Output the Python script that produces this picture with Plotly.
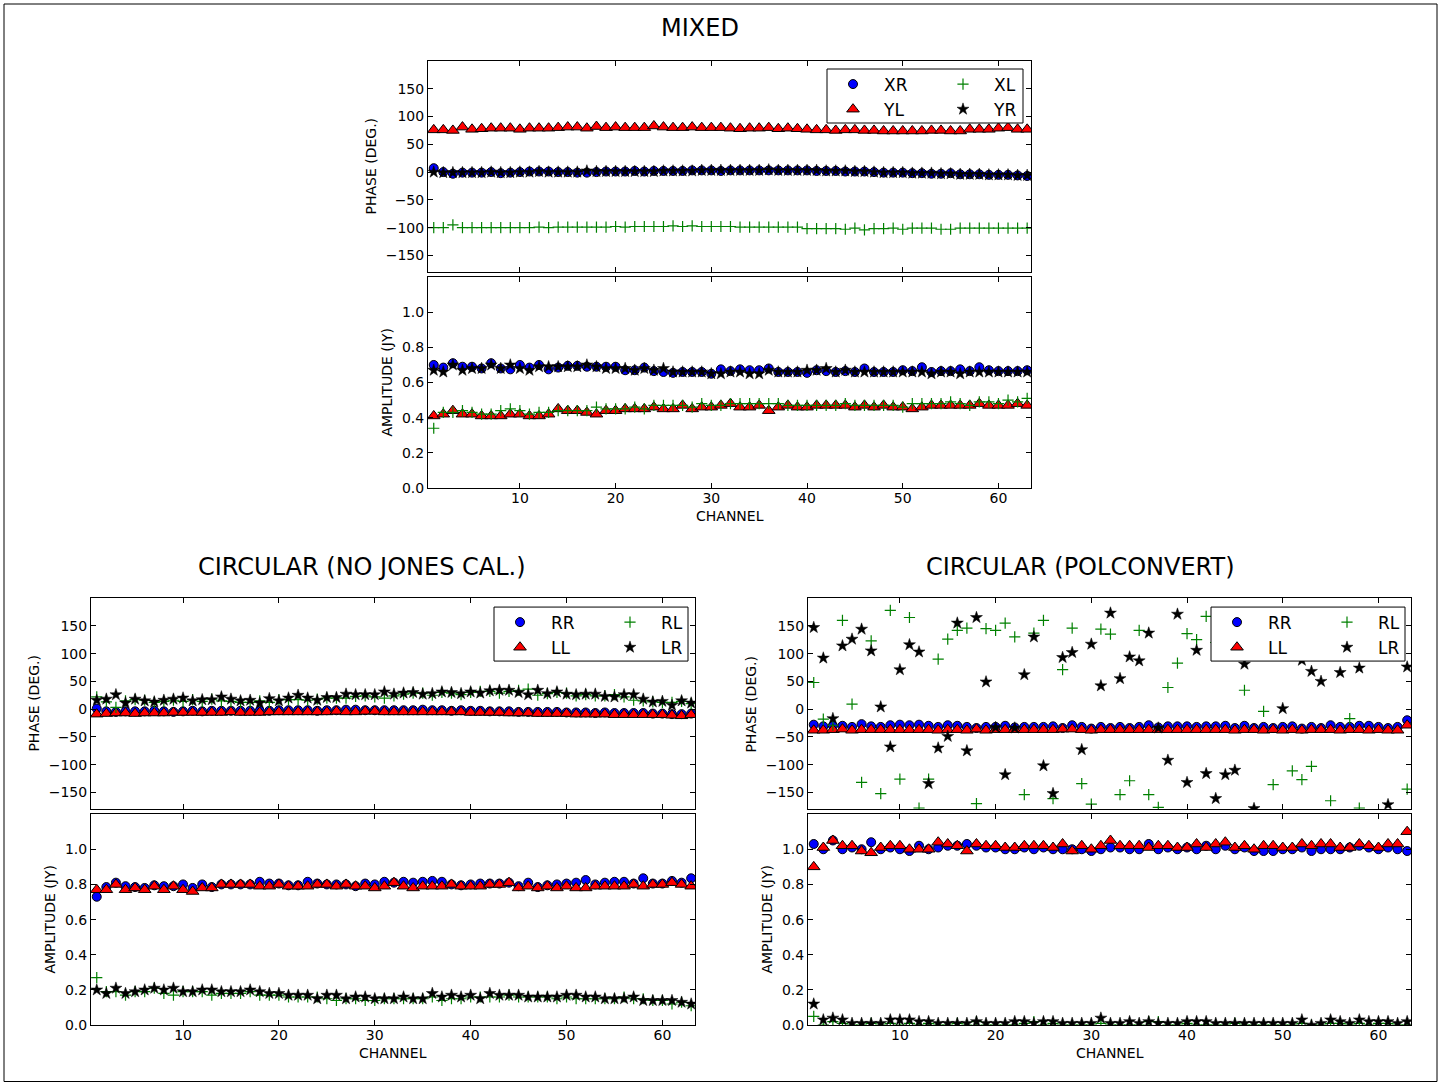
import plotly.graph_objects as go

# ---------------- data ----------------
channels = list(range(1, 64))

# MIXED
mixed_names = ["XR", "YL", "XL", "YR"]
mixed_phase_xr = [7, 0, -3, -1, -1, -1, 0, -2, -1, 0,
                  1, 1, 1, 0, 0, -1, -1, 0, 1, 1,
                  1, 2, 1, 2, 2, 2, 2, 3, 3, 3,
                  2, 3, 3, 3, 3, 3, 3, 3, 3, 3,
                  2, 2, 2, 1, 1, 1, 0, -1, -1, -1,
                  -2, -2, -3, -3, -2, -4, -4, -4, -5, -5,
                  -5, -6, -7]
mixed_phase_yl = [76, 76, 75, 81, 77, 78, 79, 79, 79, 77,
                  79, 79, 79, 80, 81, 81, 79, 82, 80, 81,
                  80, 80, 80, 83, 81, 80, 80, 81, 80, 80,
                  80, 79, 78, 79, 79, 80, 78, 79, 78, 77,
                  76, 76, 75, 76, 76, 75, 75, 74, 74, 74,
                  74, 74, 75, 75, 74, 74, 77, 77, 77, 79,
                  80, 77, 77]
mixed_phase_xl = [-100, -100, -95, -100, -100, -100, -100, -100, -100, -100,
                  -100, -99, -100, -99, -99, -99, -99, -99, -99, -98,
                  -99, -98, -98, -98, -98, -97, -98, -97, -98, -98,
                  -98, -98, -99, -99, -99, -99, -99, -99, -99, -102,
                  -102, -102, -102, -103, -101, -104, -102, -102, -101, -103,
                  -101, -101, -101, -103, -103, -101, -101, -101, -101, -101,
                  -101, -101, -101]
mixed_phase_yr = [0, -1, -1, -1, -1, -1, 0, -1, -1, 0,
                  0, 1, 0, 0, 0, 0, 2, 1, 1, 1,
                  1, 1, 1, 1, 2, 2, 2, 2, 3, 3,
                  3, 3, 3, 3, 3, 4, 3, 3, 3, 3,
                  3, 2, 2, 2, 1, 1, 0, -1, -1, -1,
                  -2, -2, -2, -3, -3, -4, -4, -4, -5, -5,
                  -5, -6, -6]
mixed_amp_xr = [0.70, 0.685, 0.71, 0.69, 0.69, 0.68, 0.71, 0.68, 0.675, 0.70,
                0.685, 0.70, 0.675, 0.685, 0.695, 0.695, 0.69, 0.69, 0.69, 0.69,
                0.67, 0.67, 0.685, 0.665, 0.66, 0.655, 0.66, 0.66, 0.66, 0.65,
                0.675, 0.665, 0.675, 0.67, 0.67, 0.68, 0.66, 0.66, 0.66, 0.655,
                0.67, 0.665, 0.66, 0.665, 0.66, 0.68, 0.66, 0.66, 0.66, 0.67,
                0.665, 0.687, 0.66, 0.665, 0.665, 0.675, 0.665, 0.687, 0.67, 0.665,
                0.665, 0.665, 0.67]
mixed_amp_yl = [0.41, 0.42, 0.44, 0.42, 0.42, 0.41, 0.41, 0.41, 0.42, 0.42,
                0.41, 0.41, 0.42, 0.45, 0.44, 0.44, 0.43, 0.42, 0.44, 0.44,
                0.45, 0.45, 0.45, 0.46, 0.45, 0.45, 0.47, 0.45, 0.46, 0.46,
                0.47, 0.48, 0.46, 0.46, 0.47, 0.44, 0.46, 0.47, 0.46, 0.46,
                0.47, 0.47, 0.47, 0.47, 0.46, 0.47, 0.46, 0.47, 0.46, 0.46,
                0.45, 0.46, 0.47, 0.47, 0.47, 0.47, 0.47, 0.48, 0.47, 0.47,
                0.47, 0.48, 0.47]
mixed_amp_xl = [0.34, 0.43, 0.43, 0.44, 0.43, 0.42, 0.42, 0.44, 0.45, 0.44,
                0.42, 0.43, 0.43, 0.44, 0.44, 0.44, 0.44, 0.46, 0.45, 0.45,
                0.45, 0.46, 0.45, 0.47, 0.47, 0.47, 0.47, 0.46, 0.48, 0.47,
                0.47, 0.48, 0.48, 0.48, 0.48, 0.48, 0.48, 0.47, 0.47, 0.47,
                0.47, 0.47, 0.47, 0.48, 0.47, 0.47, 0.47, 0.47, 0.47, 0.46,
                0.48, 0.48, 0.48, 0.48, 0.49, 0.48, 0.47, 0.49, 0.49, 0.48,
                0.50, 0.49, 0.51]
mixed_amp_yr = [0.67, 0.66, 0.70, 0.67, 0.68, 0.68, 0.70, 0.68, 0.70, 0.68,
                0.67, 0.69, 0.69, 0.69, 0.69, 0.69, 0.70, 0.69, 0.68, 0.68,
                0.68, 0.67, 0.68, 0.67, 0.68, 0.66, 0.66, 0.66, 0.66, 0.65,
                0.65, 0.66, 0.66, 0.65, 0.65, 0.67, 0.66, 0.66, 0.66, 0.67,
                0.67, 0.68, 0.66, 0.67, 0.66, 0.66, 0.66, 0.66, 0.66, 0.66,
                0.66, 0.66, 0.65, 0.66, 0.66, 0.65, 0.66, 0.66, 0.66, 0.66,
                0.66, 0.66, 0.66]

# CIRCULAR (NO JONES CAL.)
circ_names = ["RR", "LL", "RL", "LR"]
nojones_phase_rr = [1, -4, -5, -4, -4, -4, -3, -4, -5, -4,
                    -3, -4, -3, -3, -3, -3, -3, -3, -3, -2,
                    -2, -2, -2, -3, -2, -2, -1, -1, -2, -2,
                    -2, -2, -2, -2, -1, -2, -2, -3, -2, -3,
                    -3, -4, -4, -4, -5, -5, -5, -5, -5, -6,
                    -6, -6, -7, -6, -7, -7, -7, -7, -8, -8,
                    -9, -9, -8]
nojones_phase_ll = [-9, -8, -7, -7, -8, -7, -7, -7, -6, -6,
                    -6, -6, -6, -6, -5, -6, -6, -6, -5, -5,
                    -5, -5, -5, -5, -5, -4, -5, -5, -4, -4,
                    -5, -5, -5, -5, -5, -5, -5, -5, -5, -6,
                    -6, -6, -6, -7, -7, -7, -8, -8, -8, -8,
                    -9, -9, -9, -9, -10, -10, -10, -10, -10, -10,
                    -11, -12, -10]
nojones_phase_rl = [22, 13, 3, 15, 17, 16, 12, 14, 16, 14,
                    17, 14, 18, 15, 14, 12, 12, 15, 12, 17,
                    17, 17, 16, 18, 20, 20, 20, 23, 24, 22,
                    20, 24, 27, 29, 29, 25, 30, 29, 26, 30,
                    32, 32, 29, 32, 34, 36, 25, 28, 30, 29,
                    24, 26, 24, 24, 26, 22, 16, 15, 13, 12,
                    12, 14, 10]
nojones_phase_lr = [16, 18, 26, 11, 18, 15, 13, 16, 18, 20,
                    15, 17, 17, 22, 18, 15, 16, 11, 19, 15,
                    20, 25, 20, 16, 21, 21, 27, 26, 26, 26,
                    31, 27, 29, 30, 27, 28, 31, 30, 28, 31,
                    29, 33, 34, 34, 30, 26, 34, 28, 31, 27,
                    26, 27, 27, 23, 22, 26, 26, 18, 13, 14,
                    7, 15, 11]
nojones_amp_rr = [0.73, 0.785, 0.81, 0.79, 0.785, 0.78, 0.795, 0.79, 0.79, 0.80,
                  0.78, 0.80, 0.785, 0.80, 0.80, 0.80, 0.80, 0.815, 0.805, 0.805,
                  0.795, 0.795, 0.815, 0.805, 0.80, 0.80, 0.80, 0.79, 0.805, 0.80,
                  0.815, 0.81, 0.815, 0.81, 0.815, 0.82, 0.815, 0.80, 0.795, 0.80,
                  0.805, 0.805, 0.805, 0.81, 0.79, 0.81, 0.785, 0.795, 0.80, 0.805,
                  0.81, 0.825, 0.80, 0.81, 0.815, 0.815, 0.805, 0.835, 0.805, 0.805,
                  0.82, 0.81, 0.835]
nojones_amp_ll = [0.77, 0.77, 0.80, 0.77, 0.78, 0.77, 0.79, 0.77, 0.79, 0.77,
                  0.76, 0.78, 0.78, 0.80, 0.80, 0.80, 0.80, 0.79, 0.79, 0.80,
                  0.79, 0.79, 0.79, 0.80, 0.80, 0.79, 0.80, 0.79, 0.79, 0.78,
                  0.79, 0.81, 0.79, 0.78, 0.79, 0.79, 0.79, 0.80, 0.79, 0.79,
                  0.79, 0.80, 0.80, 0.81, 0.78, 0.79, 0.78, 0.79, 0.78, 0.79,
                  0.78, 0.78, 0.79, 0.79, 0.79, 0.79, 0.80, 0.79, 0.80, 0.80,
                  0.81, 0.80, 0.79]
nojones_amp_rl = [0.27, 0.19, 0.19, 0.17, 0.19, 0.19, 0.21, 0.18, 0.17, 0.19,
                  0.19, 0.19, 0.17, 0.18, 0.18, 0.18, 0.19, 0.17, 0.17, 0.17,
                  0.16, 0.16, 0.16, 0.16, 0.15, 0.14, 0.15, 0.15, 0.14, 0.14,
                  0.15, 0.15, 0.15, 0.15, 0.15, 0.16, 0.14, 0.15, 0.15, 0.16,
                  0.16, 0.16, 0.16, 0.17, 0.16, 0.16, 0.16, 0.16, 0.15, 0.16,
                  0.15, 0.15, 0.15, 0.15, 0.15, 0.16, 0.15, 0.15, 0.14, 0.14,
                  0.12, 0.13, 0.11]
nojones_amp_lr = [0.20, 0.18, 0.21, 0.18, 0.19, 0.20, 0.21, 0.20, 0.21, 0.19,
                  0.19, 0.20, 0.20, 0.19, 0.19, 0.19, 0.20, 0.19, 0.18, 0.18,
                  0.17, 0.17, 0.17, 0.15, 0.17, 0.17, 0.15, 0.16, 0.16, 0.15,
                  0.15, 0.15, 0.16, 0.15, 0.15, 0.18, 0.16, 0.17, 0.16, 0.17,
                  0.15, 0.18, 0.17, 0.17, 0.17, 0.16, 0.16, 0.16, 0.16, 0.17,
                  0.17, 0.16, 0.16, 0.15, 0.15, 0.15, 0.16, 0.14, 0.14, 0.14,
                  0.14, 0.13, 0.12]

# CIRCULAR (POLCONVERT)
polc_phase_rr = [-28, -31, -30, -30, -32, -27, -31, -32, -29, -28,
                 -29, -28, -30, -32, -29, -30, -32, -34, -32, -32,
                 -30, -33, -32, -32, -32, -31, -34, -29, -32, -35,
                 -32, -34, -32, -34, -32, -29, -33, -31, -31, -31,
                 -32, -31, -31, -30, -34, -30, -34, -32, -34, -32,
                 -31, -35, -32, -34, -29, -32, -32, -30, -30, -32,
                 -34, -32, -20]
polc_phase_ll = [-38, -38, -37, -36, -38, -37, -37, -37, -37, -37,
                 -37, -37, -37, -38, -37, -37, -38, -36, -38, -37,
                 -37, -37, -37, -37, -37, -37, -36, -36, -37, -38,
                 -37, -37, -37, -37, -37, -37, -37, -37, -37, -37,
                 -37, -37, -37, -37, -38, -37, -37, -38, -37, -38,
                 -37, -38, -37, -37, -37, -38, -37, -37, -38, -37,
                 -38, -38, -29]
polc_phase_rl = [48, -18, -29, 160, 9, -132, 123, -152, 178, -126,
                 165, -178, -126, 90, 126, 142, 146, -170, 145, 142,
                 155, 130, -154, 137, 160, -161, 71, 146, -134, -171,
                 144, 135, -154, -129, 142, -154, -177, 39, 83, 136,
                 125, 167, 120, 150, 105, 34, 140, -4, -136, 160,
                 -111, -127, -103, 130, -165, 110, -17, -178, 150, 125,
                 100, 165, -144]
polc_phase_lr = [147, 92, -17, 114, 126, 144, 105, 4, -68, 71,
                 116, 103, -134, -70, -49, 155, -75, 165, 49, -33,
                 -118, -34, 62, 130, -102, -152, 93, 102, -73, 117,
                 42, 173, 55, 94, 87, 137, -34, -92, 171, -132,
                 106, -116, -161, -118, -110, 81, -179, 140, 115, 1,
                 160, 88, 68, 50, 120, 66, 145, 74, 130, 170,
                 -172, 110, 76]
polc_amp_rr = [1.03, 1.00, 1.05, 1.00, 1.01, 1.00, 1.04, 1.00, 1.01, 1.00,
               0.99, 1.02, 1.00, 1.01, 1.02, 1.02, 1.03, 1.02, 1.01, 1.01,
               1.00, 1.00, 1.01, 1.00, 1.01, 1.00, 1.00, 1.00, 1.00, 0.99,
               1.00, 1.01, 1.01, 1.00, 1.00, 1.03, 1.00, 1.01, 1.00, 1.01,
               1.00, 1.02, 1.00, 1.02, 1.00, 1.01, 0.99, 0.99, 0.99, 1.00,
               1.00, 1.01, 0.99, 1.00, 1.00, 1.00, 1.01, 1.02, 1.01, 1.00,
               1.01, 1.00, 0.99]
polc_amp_ll = [0.90, 1.01, 1.05, 1.02, 1.02, 0.99, 0.98, 1.01, 1.02, 1.02,
               1.00, 1.00, 1.00, 1.04, 1.03, 1.02, 0.99, 1.03, 1.02, 1.02,
               1.01, 1.01, 1.02, 1.02, 1.02, 1.01, 1.03, 0.99, 1.02, 1.00,
               1.02, 1.05, 1.02, 1.02, 1.02, 1.01, 1.02, 1.02, 1.01, 1.01,
               1.03, 1.01, 1.03, 1.04, 1.01, 1.02, 1.00, 1.02, 1.02, 1.01,
               1.01, 1.03, 1.02, 1.03, 1.03, 1.01, 1.01, 1.03, 1.02, 1.01,
               1.03, 1.03, 1.10]
polc_amp_rl = [0.05, 0.00, 0.02, 0.01, 0.00, 0.00, 0.01, 0.00, 0.01, 0.00,
               0.01, 0.00, 0.01, 0.00, 0.00, 0.01, 0.00, 0.02, 0.00, 0.00,
               0.00, 0.00, 0.01, 0.02, 0.00, 0.01, 0.00, 0.00, 0.00, 0.00,
               0.01, 0.00, 0.00, 0.00, 0.00, 0.02, 0.02, 0.00, 0.00, 0.01,
               0.00, 0.00, 0.00, 0.00, 0.01, 0.00, 0.00, 0.00, 0.00, 0.00,
               0.00, 0.01, 0.00, 0.00, 0.01, 0.01, 0.00, 0.01, 0.00, 0.01,
               0.01, 0.00, 0.00]
polc_amp_lr = [0.12, 0.03, 0.04, 0.03, 0.01, 0.01, 0.01, 0.01, 0.03, 0.03,
               0.03, 0.02, 0.02, 0.01, 0.01, 0.01, 0.01, 0.02, 0.01, 0.01,
               0.01, 0.02, 0.02, 0.01, 0.02, 0.02, 0.01, 0.01, 0.01, 0.01,
               0.04, 0.01, 0.01, 0.02, 0.01, 0.02, 0.01, 0.01, 0.01, 0.02,
               0.02, 0.02, 0.01, 0.01, 0.01, 0.01, 0.01, 0.01, 0.01, 0.01,
               0.01, 0.03, 0.00, 0.01, 0.03, 0.02, 0.01, 0.03, 0.02, 0.02,
               0.02, 0.01, 0.02]

phase_ticks = [-150, -100, -50, 0, 50, 100, 150]
amp_ticks = [0.0, 0.2, 0.4, 0.6, 0.8, 1.0]
channel_ticks = [10, 20, 30, 40, 50, 60]

# ---------------- layout helpers ----------------
W = 1447
H = 1091
KY = 1.0075   # vertical correction so the photographed layout lines up
FONT = "DejaVu Sans"


def fx(p):
    return p / W


def fy(p):
    return max(0.0, 1 - (p * KY) / H)


styles = [
    dict(symbol="circle", size=9, color="#0000ff", line=dict(color="black", width=1)),
    dict(symbol="triangle-up", size=11, color="#ff0000", line=dict(color="black", width=1)),
    dict(symbol="cross-thin", size=8, color="#008000", line=dict(color="#008000", width=1.2)),
    dict(symbol="star", size=9, color="black", line=dict(color="black", width=0.5)),
]

panels = [
    dict(title="MIXED", names=mixed_names,
         phase=[mixed_phase_xr, mixed_phase_yl, mixed_phase_xl, mixed_phase_yr],
         amp=[mixed_amp_xr, mixed_amp_yl, mixed_amp_xl, mixed_amp_yr],
         x=(428, 1031), title_xy=(700, 28)),
    dict(title="CIRCULAR (NO JONES CAL.)", names=circ_names,
         phase=[nojones_phase_rr, nojones_phase_ll, nojones_phase_rl, nojones_phase_lr],
         amp=[nojones_amp_rr, nojones_amp_ll, nojones_amp_rl, nojones_amp_lr],
         x=(91, 695), title_xy=(362, 567)),
    dict(title="CIRCULAR (POLCONVERT)", names=circ_names,
         phase=[polc_phase_rr, polc_phase_ll, polc_phase_rl, polc_phase_lr],
         amp=[polc_amp_rr, polc_amp_ll, polc_amp_rl, polc_amp_lr],
         x=(808, 1411), title_xy=(1080, 567)),
]
panel_y = [((61, 272), (277, 488)), ((598, 809), (814, 1025)), ((598, 809), (814, 1025))]
legend_boxes = [(827, 1023, 69, 123), (494, 688, 607, 661), (1211, 1405, 607, 661)]

fig = go.Figure()
layout = dict(
    width=W, height=H, autosize=False,
    margin=dict(l=0, r=0, t=0, b=0),
    paper_bgcolor="white", plot_bgcolor="white",
    font=dict(family=FONT, color="black", size=14),
    showlegend=True,
)
shapes = []
annotations = []

axis_common = dict(showline=True, linecolor="black", linewidth=1, mirror="ticks",
                   ticks="inside", ticklen=5, tickcolor="black", tickwidth=1,
                   showgrid=False, zeroline=False,
                   tickfont=dict(family=FONT, size=14, color="black"))

for p, panel in enumerate(panels):
    (ph_top, ph_bot), (am_top, am_bot) = panel_y[p]
    x0, x1 = panel["x"]
    ia, ib = 2 * p + 1, 2 * p + 2
    ka = "" if ia == 1 else str(ia)
    kb = str(ib)
    leg1 = "legend" if p == 0 else f"legend{2 * p + 1}"
    leg2 = f"legend{2 * p + 2}"

    layout[f"xaxis{ka}"] = dict(axis_common, domain=[fx(x0), fx(x1)], range=[0.4, 63.4],
                                tickvals=channel_ticks, showticklabels=False,
                                anchor=f"y{ka}", matches=f"x{kb}")
    layout[f"yaxis{ka}"] = dict(axis_common, domain=[fy(ph_bot), fy(ph_top)], range=[-180, 200],
                                tickvals=phase_ticks, anchor=f"x{ka}")
    layout[f"xaxis{kb}"] = dict(axis_common, domain=[fx(x0), fx(x1)], range=[0.4, 63.4],
                                tickvals=channel_ticks, anchor=f"y{kb}", ticklabelstandoff=-3)
    layout[f"yaxis{kb}"] = dict(axis_common, domain=[fy(am_bot), fy(am_top)], range=[0, 1.2],
                                tickvals=amp_ticks, tickformat=".1f", anchor=f"x{kb}")

    for k in range(4):
        leg = leg1 if k < 2 else leg2
        fig.add_trace(go.Scatter(x=channels, y=panel["phase"][k], mode="markers",
                                 marker=styles[k], name=panel["names"][k],
                                 xaxis=f"x{ka}", yaxis=f"y{ka}", legend=leg,
                                 showlegend=True, cliponaxis=True))
    for k in range(4):
        fig.add_trace(go.Scatter(x=channels, y=panel["amp"][k], mode="markers",
                                 marker=styles[k], name=panel["names"][k],
                                 xaxis=f"x{kb}", yaxis=f"y{kb}",
                                 showlegend=False, cliponaxis=True))

    # legend frame (2 columns)
    lx0, lx1, ly0, ly1 = legend_boxes[p]
    shapes.append(dict(type="rect", xref="paper", yref="paper",
                       x0=fx(lx0), x1=fx(lx1), y0=fy(ly1), y1=fy(ly0),
                       line=dict(color="black", width=1), fillcolor="white", layer="above"))
    lyc = (ly0 + ly1) / 2 + 1
    for leg, lx in ((leg1, lx0 - 5), (leg2, lx0 + 105)):
        layout[leg] = dict(x=fx(lx), y=fy(lyc), xanchor="left", yanchor="middle",
                           bgcolor="rgba(0,0,0,0)", borderwidth=0, itemwidth=52,
                           font=dict(family=FONT, size=17, color="black"),
                           tracegroupgap=0, orientation="v")

    # titles and axis labels
    tx, ty = panel["title_xy"]
    annotations.append(dict(text=panel["title"], x=fx(tx), y=fy(ty), xref="paper", yref="paper",
                            xanchor="center", yanchor="middle", showarrow=False,
                            font=dict(family=FONT, size=24, color="black")))
    annotations.append(dict(text="PHASE (DEG.)", x=fx(x0 - 57), y=fy((ph_top + ph_bot) / 2),
                            xref="paper", yref="paper", xanchor="center", yanchor="middle",
                            textangle=-90, showarrow=False,
                            font=dict(family=FONT, size=14, color="black")))
    annotations.append(dict(text="AMPLITUDE (JY)", x=fx(x0 - 41), y=fy((am_top + am_bot) / 2),
                            xref="paper", yref="paper", xanchor="center", yanchor="middle",
                            textangle=-90, showarrow=False,
                            font=dict(family=FONT, size=14, color="black")))
    annotations.append(dict(text="CHANNEL", x=fx((x0 + x1) / 2), y=fy(am_bot + 28),
                            xref="paper", yref="paper", xanchor="center", yanchor="middle",
                            showarrow=False, font=dict(family=FONT, size=14, color="black")))

# outer frame
shapes.append(dict(type="rect", xref="paper", yref="paper",
                   x0=fx(4), x1=fx(1437), y0=1.5 / H, y1=fy(4),
                   line=dict(color="black", width=1), fillcolor="rgba(0,0,0,0)", layer="below"))

layout["shapes"] = shapes
layout["annotations"] = annotations
fig.update_layout(**layout)

fig.write_html("out.html")
